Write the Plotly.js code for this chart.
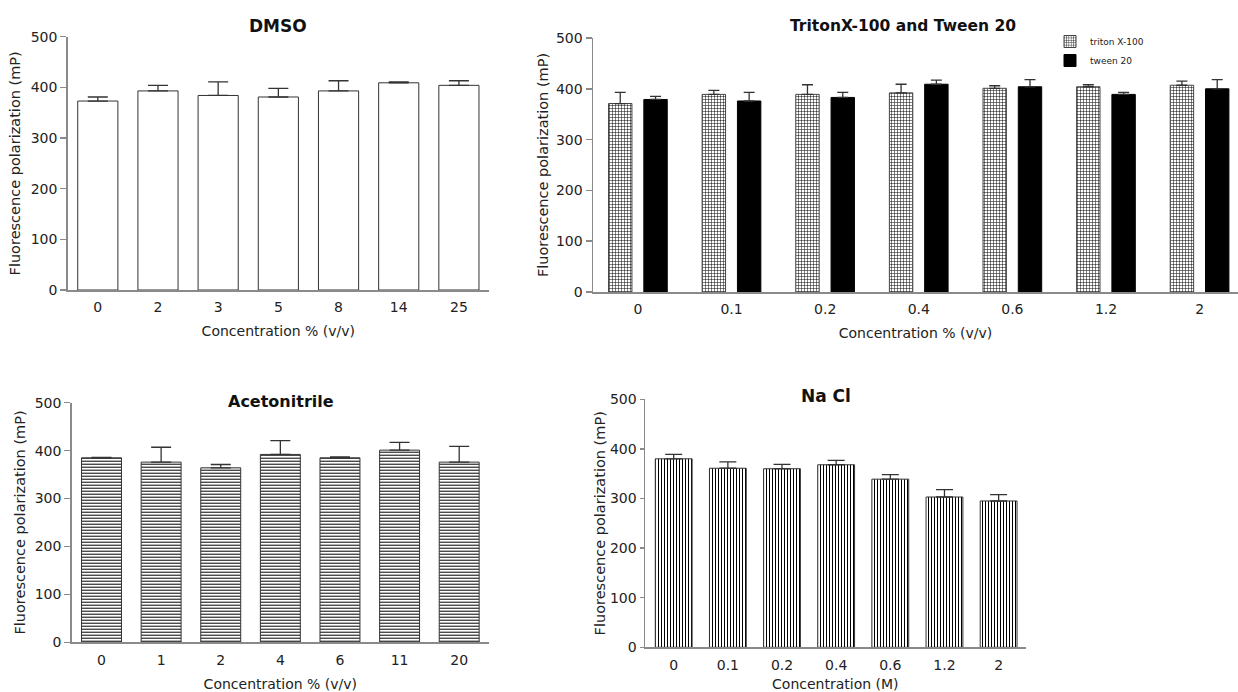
<!DOCTYPE html>
<html>
<head>
<meta charset="utf-8">
<script src="https://cdn.plot.ly/plotly-3.0.1.min.js"></script>
<style>html,body{margin:0;padding:0;background:#fff;}#chart{width:1238px;height:692px;}</style>
</head>
<body>
<div id="chart"></div>
<script>
// ---- data ----
const dmsoCats = ['0','2','3','5','8','14','25'];
const dmsoVals = [373, 393, 384, 381, 393, 409, 404];
const dmsoErr  = [8, 11, 27, 17, 20, 2, 9];

const surfCats   = ['0','0.1','0.2','0.4','0.6','1.2','2'];
const tritonVals = [371, 389, 389, 392, 401, 404, 407];
const tritonErr  = [22, 8, 19, 17, 5, 4, 8];
const tweenVals  = [379, 376, 383, 409, 404, 389, 400];
const tweenErr   = [6, 17, 10, 8, 14, 4, 18];

const acnCats = ['0','1','2','4','6','11','20'];
const acnVals = [385, 376, 364, 392, 385, 401, 376];
const acnErr  = [1, 31, 7, 29, 2, 16, 33];

const naclCats = ['0','0.1','0.2','0.4','0.6','1.2','2'];
const naclVals = [380, 361, 360, 368, 339, 303, 295];
const naclErr  = [9, 13, 9, 9, 9, 15, 13];

const yTicks = [0, 100, 200, 300, 400, 500];

// ---- helpers ----
const W = 1238, H = 692;
const px = v => v / W;
const py = v => 1 - v / H;
const zeros = a => a.map(() => 0);
const FONT = 'DejaVu Sans, Verdana, sans-serif';
const AX = '#8a8a8a';

function err(arr, w) {
  return {type: 'data', symmetric: false, array: arr, arrayminus: zeros(arr),
          color: '#333', thickness: 1.3, width: w};
}

const traces = [
  {type: 'bar', x: dmsoCats, y: dmsoVals, xaxis: 'x', yaxis: 'y', width: 0.667,
   marker: {color: '#ffffff', line: {color: '#333', width: 1}},
   error_y: err(dmsoErr, 10), showlegend: false},
  {type: 'bar', name: 'triton X-100', x: surfCats, y: tritonVals, xaxis: 'x2', yaxis: 'y2',
   width: 0.25, offset: -0.314,
   marker: {color: '#ffffff', line: {color: '#444', width: 1},
            pattern: {shape: '+', size: 3, solidity: 0.3, fgcolor: '#000', bgcolor: '#fff'}},
   error_y: err(tritonErr, 5.5)},
  {type: 'bar', name: 'tween 20', x: surfCats, y: tweenVals, xaxis: 'x2', yaxis: 'y2',
   width: 0.25, offset: 0.063,
   marker: {color: '#000000', line: {color: '#000', width: 1}},
   error_y: err(tweenErr, 5.5)},
  {type: 'bar', x: acnCats, y: acnVals, xaxis: 'x3', yaxis: 'y3', width: 0.67,
   marker: {color: '#ffffff', line: {color: '#333', width: 1},
            pattern: {shape: '-', size: 3, solidity: 0.35, fgcolor: '#000', bgcolor: '#fff'}},
   error_y: err(acnErr, 10), showlegend: false},
  {type: 'bar', x: naclCats, y: naclVals, xaxis: 'x4', yaxis: 'y4', width: 0.68,
   marker: {color: '#ffffff', line: {color: '#333', width: 1},
            pattern: {shape: '|', size: 3, solidity: 0.35, fgcolor: '#000', bgcolor: '#fff'}},
   error_y: err(naclErr, 8.5), showlegend: false}
];

function xax(dom, range, title, anchor) {
  return {domain: dom, range: range, type: 'category', anchor: anchor,
          showline: true, linecolor: AX, linewidth: 1.5, showgrid: false, zeroline: false,
          ticks: 'outside', ticklen: 4, tickcolor: 'rgba(0,0,0,0)',
          tickfont: {family: FONT, size: 14, color: '#222'},
          title: {text: title, font: {family: FONT, size: 14, color: '#222'}, standoff: 12}};
}
function yax(dom, anchor, ticklen, standoff) {
  return {domain: dom, range: [0, 500], anchor: anchor, tickvals: yTicks,
          showline: true, linecolor: AX, linewidth: 1.5, showgrid: false, zeroline: false,
          ticks: 'outside', ticklen: ticklen, tickcolor: AX, tickwidth: 1.5,
          tickfont: {family: FONT, size: 14, color: '#222'},
          title: {text: 'Fluorescence polarization (mP)', font: {family: FONT, size: 14.5, color: '#222'}, standoff: standoff}};
}

const layout = {
  width: W, height: H, margin: {l: 0, r: 0, t: 0, b: 0},
  paper_bgcolor: '#fff', plot_bgcolor: '#fff',
  font: {family: FONT, color: '#222'},
  barmode: 'group',
  xaxis:  xax([px(67.7), px(489)], [-0.5, 6.5], 'Concentration % (v/v)', 'y'),
  yaxis:  yax([py(290), py(36.7)], 'x', 6, 6),
  xaxis2: xax([px(593), 1], [-0.48, 6.41], 'Concentration % (v/v)', 'y2'),
  yaxis2: yax([py(292), py(38)], 'x2', 6, 4),
  xaxis3: xax([px(71.7), px(489)], [-0.5, 6.5], 'Concentration % (v/v)', 'y3'),
  yaxis3: yax([py(642.3), py(402.7)], 'x3', 6, 5),
  xaxis4: xax([px(645), px(1025.7)], [-0.53, 6.5], 'Concentration (M)', 'y4'),
  yaxis4: yax([py(647.3), py(399.3)], 'x4', 4, 1),
  showlegend: true,
  legend: {x: px(1050), y: py(27), xanchor: 'left', yanchor: 'top',
           font: {family: FONT, size: 9, color: '#222'}, bgcolor: 'rgba(0,0,0,0)', tracegroupgap: 0},
  annotations: [
    {text: '<b>DMSO</b>', x: px(278), y: py(26), xref: 'paper', yref: 'paper', showarrow: false,
     xanchor: 'center', yanchor: 'middle', font: {family: FONT, size: 17, color: '#111'}},
    {text: '<b>TritonX-100 and Tween 20</b>', x: px(903), y: py(26), xref: 'paper', yref: 'paper', showarrow: false,
     xanchor: 'center', yanchor: 'middle', font: {family: FONT, size: 15.5, color: '#111'}},
    {text: '<b>Acetonitrile</b>', x: px(281), y: py(401), xref: 'paper', yref: 'paper', showarrow: false,
     xanchor: 'center', yanchor: 'middle', font: {family: FONT, size: 16, color: '#111'}},
    {text: '<b>Na Cl</b>', x: px(826), y: py(396), xref: 'paper', yref: 'paper', showarrow: false,
     xanchor: 'center', yanchor: 'middle', font: {family: FONT, size: 17, color: '#111'}}
  ]
};

Plotly.newPlot('chart', traces, layout, {displayModeBar: false, staticPlot: true});
</script>
</body>
</html>
